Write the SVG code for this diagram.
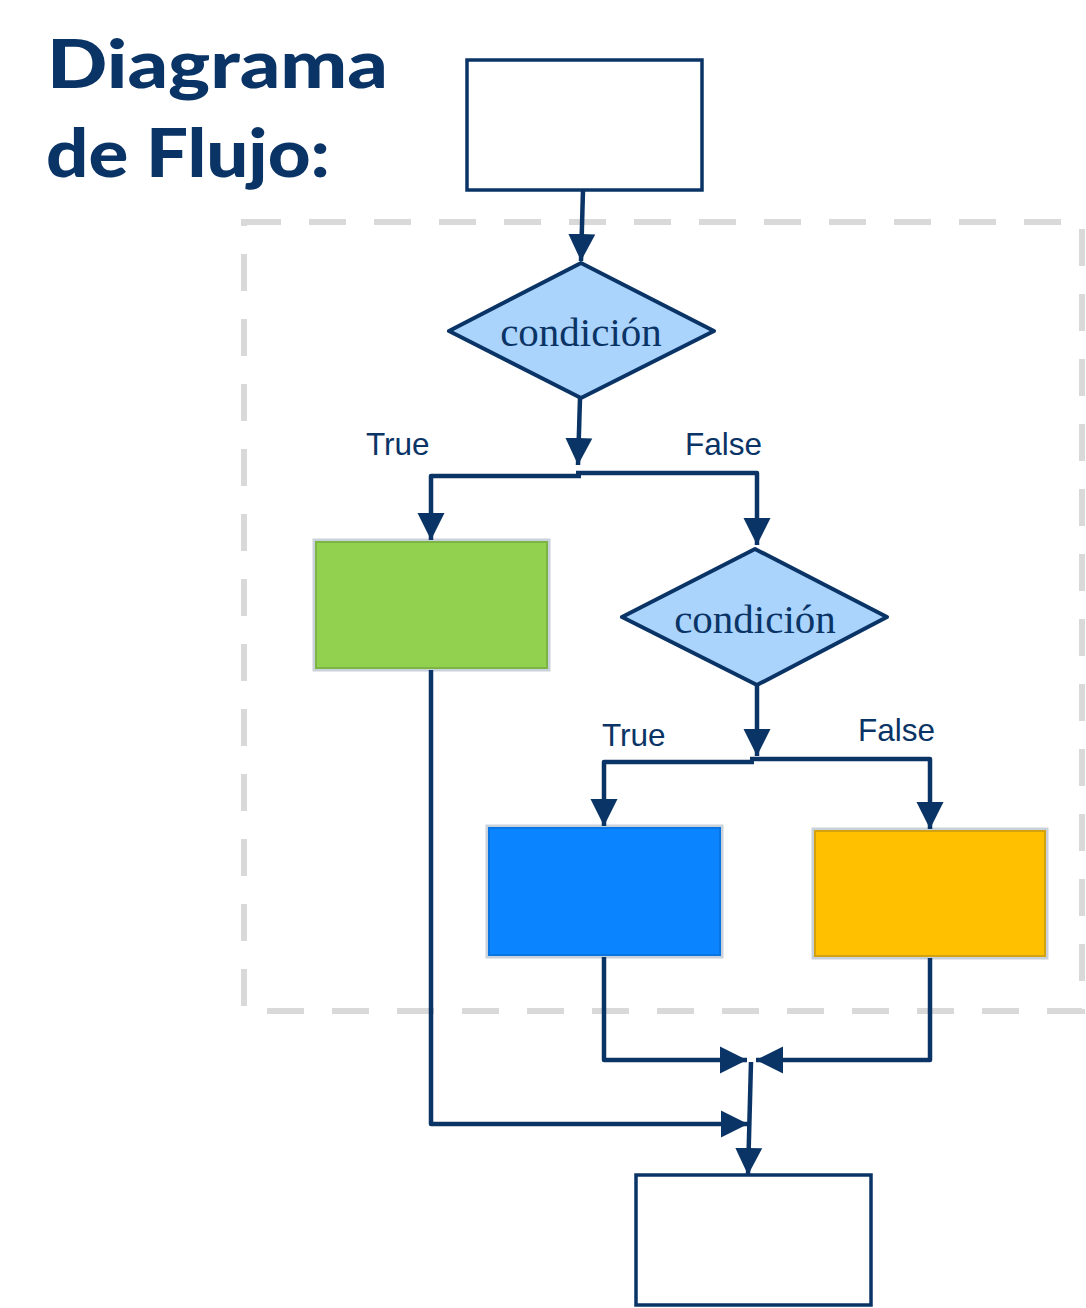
<svg xmlns="http://www.w3.org/2000/svg" width="1086" height="1308" viewBox="0 0 1086 1308">
<style>
.title{font-family:"Lato","Liberation Sans",sans-serif;font-weight:900;font-size:66px;fill:#0b3466}
.cond{font-family:"Liberation Serif","Times New Roman",serif;font-size:41px;fill:#0b3466;text-anchor:middle}
.lbl{font-family:"Liberation Sans",Arial,sans-serif;font-size:31.5px;fill:#0b3466}
.wbox{fill:#ffffff;stroke:#0b3466;stroke-width:3.5}
.dia{fill:#aad4fc;stroke:#0b3466;stroke-width:4;stroke-linejoin:round}
.conn{fill:none;stroke:#0b3466;stroke-width:4.5;stroke-linejoin:round}
.frame{fill:none;stroke:#d9d9d9;stroke-width:6;stroke-dasharray:37 28}
</style>
<defs>
<marker id="ah" markerUnits="userSpaceOnUse" markerWidth="28" markerHeight="28" refX="27" refY="13.5" orient="auto" viewBox="0 0 28 27">
<path d="M0,0 L27,13.5 L0,27 z" fill="#0b3466"/>
</marker>
</defs>
<rect width="1086" height="1308" fill="#ffffff"/>
<g id="title">
<text class="title" x="47" y="88" textLength="341" lengthAdjust="spacingAndGlyphs">Diagrama</text>
<text class="title" x="46" y="177" textLength="284" lengthAdjust="spacingAndGlyphs">de Flujo:</text>
</g>
<rect id="frame" class="frame" x="244" y="222" width="838" height="789"/>
<g id="start"><rect class="wbox" x="467" y="60" width="235" height="130"/></g>
<g id="cond1"><polygon class="dia" points="581,263 714,331 581,398 449,331"/><text class="cond" x="581" y="346">condición</text></g>
<g id="green"><rect x="314" y="540" width="235" height="130" fill="#92d050" stroke="#c9d1da" stroke-width="3"/><rect x="316" y="542" width="231" height="126" fill="none" stroke="#7cb544" stroke-width="2"/></g>
<g id="cond2"><polygon class="dia" points="755,549 887,617 757,685 622,617"/><text class="cond" x="755" y="633">condición</text></g>
<g id="blue"><rect x="487" y="826" width="235" height="131" fill="#0a84ff" stroke="#c9d1da" stroke-width="3"/><rect x="489" y="828" width="231" height="127" fill="none" stroke="#0875e2" stroke-width="2"/></g>
<g id="yellow"><rect x="813" y="829" width="234" height="129" fill="#ffc000" stroke="#c9d1da" stroke-width="3"/><rect x="815" y="831" width="230" height="125" fill="none" stroke="#d2a210" stroke-width="2"/></g>
<g id="end"><rect class="wbox" x="636" y="1175" width="235" height="130"/></g>
<g id="labels">
<text class="lbl" x="366" y="455">True</text>
<text class="lbl" x="685" y="455">False</text>
<text class="lbl" x="602" y="746">True</text>
<text class="lbl" x="858" y="741">False</text>
</g>
<g id="connectors">
<path class="conn" d="M583,190 L581,261" marker-end="url(#ah)"/>
<path class="conn" d="M580,398 L578,465" marker-end="url(#ah)"/>
<path class="conn" d="M581,476 L431,476 L431,540" marker-end="url(#ah)"/>
<path class="conn" d="M576,473 L757,473 L757,545" marker-end="url(#ah)"/>
<path class="conn" d="M757,685 L757,756" marker-end="url(#ah)"/>
<path class="conn" d="M754,762 L604,762 L604,826" marker-end="url(#ah)"/>
<path class="conn" d="M750,759 L930,759 L930,829" marker-end="url(#ah)"/>
<path class="conn" d="M431,670 L431,1124 L748,1124" marker-end="url(#ah)"/>
<path class="conn" d="M604,957 L604,1060 L747,1060" marker-end="url(#ah)"/>
<path class="conn" d="M930,958 L930,1060 L756,1060" marker-end="url(#ah)"/>
<path class="conn" d="M751,1062 L748,1175" marker-end="url(#ah)"/>
</g>
</svg>
